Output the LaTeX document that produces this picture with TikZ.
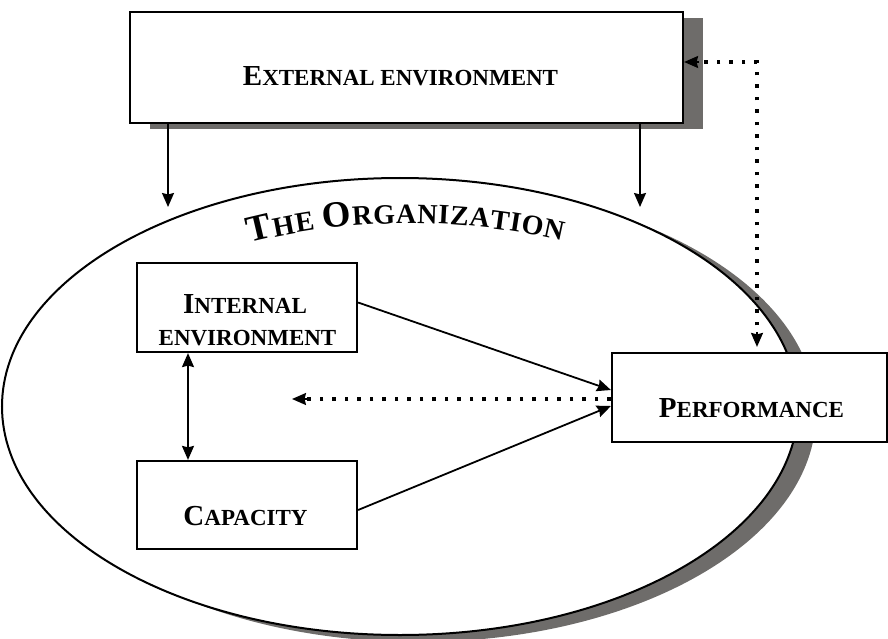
\documentclass[tikz,border=0pt]{standalone}
\usepackage{fontspec}
\setmainfont{Liberation Serif}
\usetikzlibrary{arrows.meta,calc,decorations.text}
\definecolor{shadowgray}{RGB}{110,108,106}
\newcommand\BgF{\fontsize{29}{30}\selectfont\bfseries}
\newcommand\SmF{\fontsize{23}{24}\selectfont\bfseries}
\newcommand\TBgF{\fontsize{37}{38}\selectfont\bfseries}
\newcommand\TSmF{\fontsize{28}{29}\selectfont\bfseries}
\begin{document}
\begin{tikzpicture}[x=1pt,y=1pt,
  box/.style={draw=black, line width=2.2pt, fill=white, inner sep=0pt},
  lbl/.style={anchor=base, inner sep=0pt},
  arr/.style={line width=1.8pt, -{Stealth[length=14pt,width=12pt,inset=1.5pt]}},
  darr/.style={line width=1.8pt, {Stealth[length=14pt,width=12pt,inset=1.5pt]}-{Stealth[length=14pt,width=12pt,inset=1.5pt]}},
  dotline/.style={line width=3.5pt, dash pattern=on 3.5pt off 9pt}]
\useasboundingbox (0,0) rectangle (888,-639);
% organization ellipse with shadow
\fill[shadowgray] (418,-413.5) ellipse [x radius=398, y radius=228.5];
\draw[line width=2pt, fill=white] (400,-406.5) ellipse [x radius=398, y radius=228.5];
% title along arc
\path[decorate, decoration={text along path,
   text={|\TBgF|T|\TSmF|HE |\TBgF|O|\TSmF|RGANIZATION},
   text align={fit to path}}]
   (250,-243) .. controls (352,-217) and (457,-217) .. (562,-241);
% external environment
\fill[shadowgray] (149.5,-18.5) rectangle (702.5,-129.5);
\node[box, minimum width=553, minimum height=111] (ext) at (406.5,-67.5) {};
\node[lbl] (extT) at (400.5,-86) {\BgF E\SmF XTERNAL ENVIRONMENT};
% internal environment
\node[box, minimum width=220, minimum height=89] (int) at (247,-307.5) {};
\node[lbl] (intT1) at (245,-313) {\BgF I\SmF NTERNAL};
\node[lbl] (intT2) at (247.5,-345) {\SmF ENVIRONMENT};
% capacity
\node[box, minimum width=220, minimum height=88] (cap) at (247,-505) {};
\node[lbl] (capT) at (245.5,-525) {\BgF C\SmF APACITY};
% performance
\node[box, minimum width=275, minimum height=89] (perf) at (749.5,-397.5) {};
\node[lbl] (perfT) at (751.5,-417) {\BgF P\SmF ERFORMANCE};
% connectors
\coordinate (a1) at (168,-207);
\coordinate (a2) at (640,-207);
\draw[arr] (ext.south -| a1) -- (a1);
\draw[arr] (ext.south -| a2) -- (a2);
\coordinate (c) at (757,-62);
\draw[dotline] ($(perf.north -| c)+(0,14)$) -- (c) -- ($(ext.east |- c)+(14,0)$);
\draw[arr] ($(ext.east |- c)+(15,0)$) -- (ext.east |- c);
\draw[arr] ($(perf.north -| c)+(0,20)$) -- ($(perf.north -| c)+(0,5)$);
\draw[arr] ($(int.east)+(0,5)$) -- ($(perf.west)+(0,7.5)$);
\draw[arr] ($(cap.east)+(0,-5)$) -- ($(perf.west)+(0,-8.5)$);
\coordinate (d) at (292,-399);
\draw[dotline] (perf.west |- d) -- ($(d)+(14,0)$);
\draw[arr] ($(d)+(15,0)$) -- (d);
\coordinate (dd) at (188,-400);
\draw[darr] (int.south -| dd) -- (cap.north -| dd);
\end{tikzpicture}
\end{document}
